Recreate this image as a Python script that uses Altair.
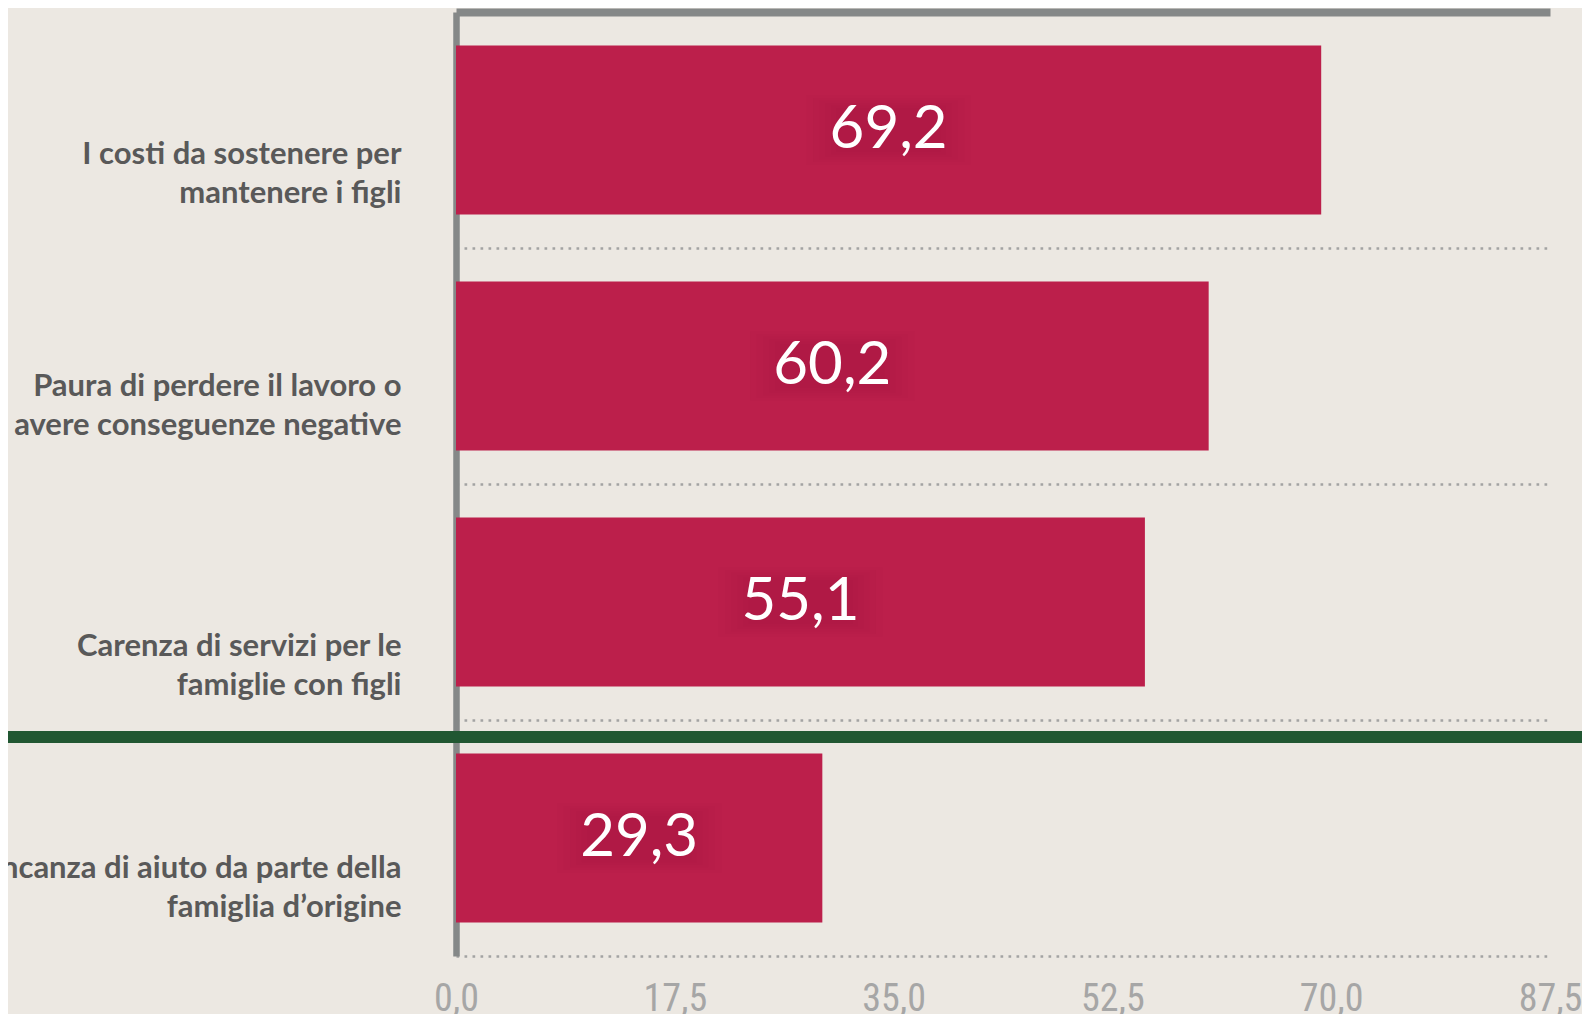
import altair as alt
import pandas as pd

categories = [
    "I costi da sostenere per\nmantenere i figli",
    "Paura di perdere il lavoro o\navere conseguenze negative",
    "Carenza di servizi per le\nfamiglie con figli",
    "Mancanza di aiuto da parte della\nfamiglia d\u2019origine",
]
values = [69.2, 60.2, 55.1, 29.3]
x_ticks = [0, 17.5, 35, 52.5, 70, 87.5]

df = pd.DataFrame({"cat": categories, "val": values})

W, H = 1094, 944
PAD = {"left": 448, "top": 4, "right": 32, "bottom": 58}

BAR = "#BC1F4B"
GRAY = "#858888"
BG = "#ECE8E2"

label_offset = {
    "condition": [
        {"test": "indexof(datum.value, 'I costi') == 0", "value": 25},
        {"test": "indexof(datum.value, 'Paura') == 0", "value": 21},
        {"test": "indexof(datum.value, 'Carenza') == 0", "value": 45},
    ],
    "value": 31,
}

y_axis = alt.Axis(
    title=None, domain=True, domainColor=GRAY, domainWidth=6.5, ticks=False,
    grid=True, gridColor="#A3A3A3", gridDash=[2.7, 5.3], gridWidth=2.5, bandPosition=1,
    labelFont="Lato", labelFontSize=31, labelFontWeight="bold", labelColor="#595959",
    labelPadding=55, labelAlign="right", labelBaseline="middle", labelLineHeight=38.5,
    labelExpr="split(datum.label, '\\n')", labelOffset=label_offset, labelLimit=0,
)
y_scale = alt.Scale(paddingInner=0, paddingOuter=0)
x_scale = alt.Scale(domain=[0, 87.5], nice=False, zero=True)

def Y(**kw):
    return alt.Y("cat:N", sort=categories, scale=y_scale, axis=y_axis, **kw)

base = alt.Chart(df).transform_calculate(
    mid="datum.val / 2",
    txt="replace(format(datum.val, '.1f'), '.', ',')",
)

bars = base.mark_bar(color=BAR, height=alt.RelativeBandSize(0.716)).encode(
    y=Y(),
    x=alt.X("val:Q", scale=x_scale, axis=alt.Axis(
        orient="bottom", title=None, domain=False, ticks=False, grid=False,
        values=x_ticks, labelFont="Liberation Sans Narrow, Roboto Condensed, Lato",
        labelFontSize=38, labelColor="#A6A6A6",
        labelPadding=24, labelExpr="replace(format(datum.value, '.1f'), '.', ',')",
        labelFlush=False,
    )),
)

RECT = "M -1.3 -0.55 L 1.3 -0.55 L 1.3 0.55 L -1.3 0.55 Z"
glows = [
    base.mark_point(shape=RECT, filled=True, color="#7A0F30", opacity=0.03, size=s).encode(
        y=Y(), x=alt.X("mid:Q", scale=x_scale, axis=None)
    )
    for s in (16000, 13500, 11300, 9400, 7800, 6400)
]

vals = base.mark_text(
    font="Lato", fontSize=60, color="white", align="center", baseline="middle",
).encode(
    y=Y(),
    x=alt.X("mid:Q", scale=x_scale, axis=alt.Axis(
        orient="top", title=None, labels=False, ticks=False, grid=False,
        domain=True, domainColor=GRAY, domainWidth=8,
    )),
    text="txt:N",
)

sep = base.transform_filter(
    alt.datum.cat == categories[3]
).mark_rule(color="#215732", strokeWidth=12).encode(
    y=Y(bandPosition=0),
    yOffset=alt.value(17),
    x=alt.value(-PAD["left"]),
    x2=alt.value(W + PAD["right"]),
)

chart = alt.layer(bars, *glows, vals, sep).resolve_axis(x="independent").properties(
    width=W, height=H, background=BG, padding=PAD,
    autosize=alt.AutoSizeParams(type="none"),
).configure_view(stroke=None)

chart.save("out.html", embed_options={"renderer": "svg", "actions": False})
